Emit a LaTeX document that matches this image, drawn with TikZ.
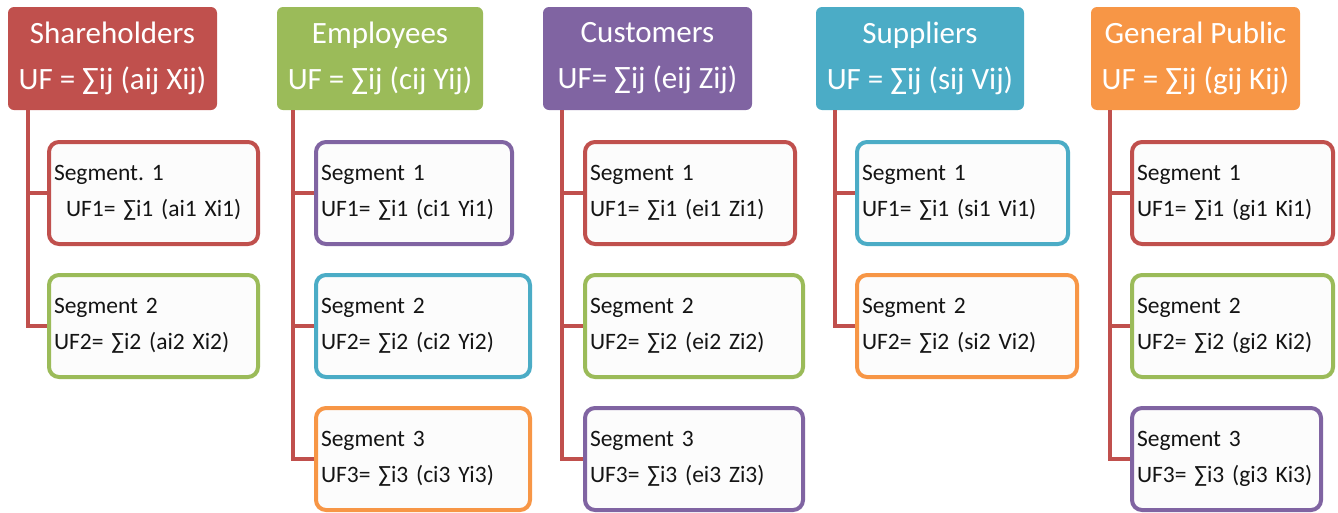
\documentclass[tikz,border=0pt]{standalone}
\usepackage{fontspec}
\setmainfont{Carlito}
\frenchspacing
\definecolor{cred}{RGB}{192,80,77}
\definecolor{cgreen}{RGB}{155,187,89}
\definecolor{cpurple}{RGB}{128,100,162}
\definecolor{caqua}{RGB}{75,172,198}
\definecolor{corange}{RGB}{247,150,70}
\definecolor{segfill}{RGB}{252,252,252}
\definecolor{segtext}{RGB}{20,20,20}
\tikzset{
  headbox/.style={fill=#1, draw=none, rounded corners=6pt, text=white, align=center,
    font=\fontsize{31}{46}\selectfont, inner sep=0pt},
  segbox/.style={draw=#1, line width=4pt, fill=segfill, rounded corners=10pt,
    align=left, text=segtext, font=\fontsize{23.5}{36}\selectfont\frenchspacing,
    inner xsep=0pt, inner ysep=0pt, minimum height=102pt},
  conn/.style={draw=cred, line width=4pt}
}
\begin{document}
\begin{tikzpicture}[x=1pt,y=-1pt]
\useasboundingbox (0,0) rectangle (1338,512);
% headers
\node[headbox=cred, minimum width=209pt, minimum height=103pt] (h1) at (112.5,58.5) {Shareholders\\UF = ∑ij (aij Xij)};
\node[headbox=cgreen, minimum width=206pt, minimum height=103pt] (h2) at (380,58.5) {Employees\\UF = ∑ij (cij Yij)};
\node[headbox=cpurple, minimum width=209pt, minimum height=103pt] (h3) at (647.5,58.5) {Customers\\UF= ∑ij (eij Zij)};
\node[headbox=caqua, minimum width=208pt, minimum height=103pt] (h4) at (920,58.5) {Suppliers\\UF = ∑ij (sij Vij)};
\node[headbox=corange, minimum width=209pt, minimum height=103pt] (h5) at (1195.5,58.5) {General Public\\UF = ∑ij (gij Kij)};
% Shareholders
\node[segbox=cred, minimum width=209pt, text width=199pt] (s11) at (153.5,193) {Segment. 1\\\hspace*{12pt}UF1= ∑i1 (ai1 Xi1)};
\node[segbox=cgreen, minimum width=209pt, text width=199pt] (s12) at (153.5,326) {Segment 2\\UF2= ∑i2 (ai2 Xi2)};
% Employees
\node[segbox=cpurple, minimum width=196pt, text width=186pt] (s21) at (414,193) {Segment 1\\UF1= ∑i1 (ci1 Yi1)};
\node[segbox=caqua, minimum width=214pt, text width=204pt] (s22) at (423,326) {Segment 2\\UF2= ∑i2 (ci2 Yi2)};
\node[segbox=corange, minimum width=214pt, text width=204pt] (s23) at (423,459) {Segment 3\\UF3= ∑i3 (ci3 Yi3)};
% Customers
\node[segbox=cred, minimum width=210pt, text width=200pt] (s31) at (690,193) {Segment 1\\UF1= ∑i1 (ei1 Zi1)};
\node[segbox=cgreen, minimum width=218pt, text width=208pt] (s32) at (694,326) {Segment 2\\UF2= ∑i2 (ei2 Zi2)};
\node[segbox=cpurple, minimum width=218pt, text width=208pt] (s33) at (694,459) {Segment 3\\UF3= ∑i3 (ei3 Zi3)};
% Suppliers
\node[segbox=caqua, minimum width=211pt, text width=201pt] (s41) at (962.5,193) {Segment 1\\UF1= ∑i1 (si1 Vi1)};
\node[segbox=corange, minimum width=220pt, text width=210pt] (s42) at (967,326) {Segment 2\\UF2= ∑i2 (si2 Vi2)};
% General Public
\node[segbox=cred, minimum width=201pt, text width=191pt] (s51) at (1232.5,193) {Segment 1\\UF1= ∑i1 (gi1 Ki1)};
\node[segbox=cgreen, minimum width=201pt, text width=191pt] (s52) at (1232.5,326) {Segment 2\\UF2= ∑i2 (gi2 Ki2)};
\node[segbox=cpurple, minimum width=189pt, text width=179pt] (s53) at (1226.5,459) {Segment 3\\UF3= ∑i3 (gi3 Ki3)};
% connectors
\draw[conn] ([xshift=20pt]h1.south west) |- (s11.west);
\draw[conn] ([xshift=20pt]h1.south west) |- (s12.west);
\draw[conn] ([xshift=16pt]h2.south west) |- (s21.west);
\draw[conn] ([xshift=16pt]h2.south west) |- (s22.west);
\draw[conn] ([xshift=16pt]h2.south west) |- (s23.west);
\draw[conn] ([xshift=19pt]h3.south west) |- (s31.west);
\draw[conn] ([xshift=19pt]h3.south west) |- (s32.west);
\draw[conn] ([xshift=19pt]h3.south west) |- (s33.west);
\draw[conn] ([xshift=19pt]h4.south west) |- (s41.west);
\draw[conn] ([xshift=19pt]h4.south west) |- (s42.west);
\draw[conn] ([xshift=19pt]h5.south west) |- (s51.west);
\draw[conn] ([xshift=19pt]h5.south west) |- (s52.west);
\draw[conn] ([xshift=19pt]h5.south west) |- (s53.west);
\end{tikzpicture}
\end{document}
